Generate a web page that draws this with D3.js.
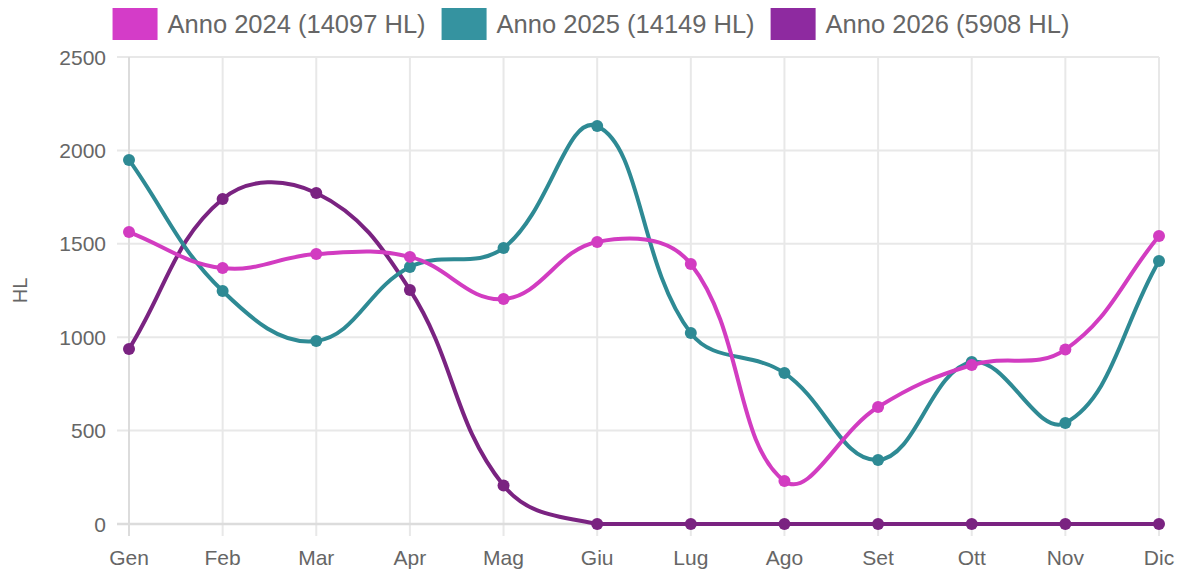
<!DOCTYPE html>
<html>
<head>
<meta charset="utf-8">
<script src="https://cdn.jsdelivr.net/npm/d3@7"></script>
<style>
  html, body { margin: 0; padding: 0; background: #fff; }
  svg text { font-family: "Liberation Sans", Arial, Helvetica, sans-serif; fill: #666; }
</style>
</head>
<body>
<svg id="chart"></svg>
<script>
var W = 1182, H = 576;

// data
var months = ["Gen", "Feb", "Mar", "Apr", "Mag", "Giu", "Lug", "Ago", "Set", "Ott", "Nov", "Dic"];
var yTicks = [0, 500, 1000, 1500, 2000, 2500];
var seriesNames = ["Anno 2024 (14097 HL)", "Anno 2025 (14149 HL)", "Anno 2026 (5908 HL)"];
var vals2024 = [1563, 1370, 1445, 1430, 1204, 1510, 1392, 230, 626, 851, 934, 1542];
var vals2025 = [1949, 1247, 980, 1376, 1478, 2130, 1022, 808, 343, 867, 541, 1408];
var vals2026 = [937, 1740, 1772, 1253, 206, 0, 0, 0, 0, 0, 0, 0];

var lineColors = ["#d23cc1", "#2e8a94", "#7a2381"];
var boxColors = ["#d43cc8", "#3593a0", "#8e2aa0"];

// plot area (note: "top" is taken by window.top, so prefix everything)
var pLeft = 129, pRight = 1159, pTop = 57, pBottom = 524;
var tickLen = 12;

var svg = d3.select("#chart").attr("width", W).attr("height", H);

var x = d3.scalePoint().domain(months).range([pLeft, pRight]);
var y = d3.scaleLinear().domain([0, 2500]).range([pBottom, pTop]);

// grid (Chart.js-ish, light gray)
var grid = svg.append("g").attr("id", "grid");
grid.selectAll("line.v").data(months).enter().append("line")
  .attr("x1", function(d) { return x(d); }).attr("x2", function(d) { return x(d); })
  .attr("y1", pTop).attr("y2", pBottom + tickLen)
  .style("stroke", "#e8e8e8").style("stroke-width", 2);
grid.selectAll("line.h").data(yTicks).enter().append("line")
  .attr("x1", pLeft - tickLen).attr("x2", pRight)
  .attr("y1", function(d) { return y(d); }).attr("y2", function(d) { return y(d); })
  .style("stroke", "#e8e8e8").style("stroke-width", 2);

// axis borders
svg.append("line").attr("x1", pLeft).attr("x2", pLeft).attr("y1", pTop).attr("y2", pBottom + tickLen)
  .style("stroke", "#dcdcdc").style("stroke-width", 2);
svg.append("line").attr("x1", pLeft - tickLen).attr("x2", pRight).attr("y1", y(0)).attr("y2", y(0))
  .style("stroke", "#dcdcdc").style("stroke-width", 2.5);

// tick labels
svg.append("g").selectAll("text").data(yTicks).enter().append("text")
  .attr("x", 106).attr("y", function(d) { return y(d); })
  .attr("dy", "0.36em").attr("text-anchor", "end")
  .style("font-size", "21px")
  .text(function(d) { return d; });

svg.append("g").selectAll("text").data(months).enter().append("text")
  .attr("x", function(d) { return x(d); }).attr("y", 565)
  .attr("text-anchor", "middle")
  .style("font-size", "21px")
  .text(function(d) { return d; });

// y axis title
svg.append("text")
  .attr("transform", "translate(27," + ((pTop + pBottom) / 2) + ") rotate(-90)")
  .attr("text-anchor", "middle")
  .style("font-size", "20px")
  .text("HL");

// Chart.js style spline (tension 0.4) with control points capped to the plot area
function splinePath(pts) {
  var t = 0.4;
  var cps = pts.map(function(cur, i) {
    var prev = pts[i - 1] || cur, next = pts[i + 1] || cur;
    var d01 = Math.hypot(cur[0] - prev[0], cur[1] - prev[1]);
    var d12 = Math.hypot(next[0] - cur[0], next[1] - cur[1]);
    var s01 = d01 / (d01 + d12), s12 = d12 / (d01 + d12);
    if (isNaN(s01)) s01 = 0;
    if (isNaN(s12)) s12 = 0;
    var fa = t * s01, fb = t * s12;
    var cpPrev = [cur[0] - fa * (next[0] - prev[0]), cur[1] - fa * (next[1] - prev[1])];
    var cpNext = [cur[0] + fb * (next[0] - prev[0]), cur[1] + fb * (next[1] - prev[1])];
    return { prev: cap(cpPrev), next: cap(cpNext) };
  });
  var p = d3.path();
  p.moveTo(pts[0][0], pts[0][1]);
  for (var i = 1; i < pts.length; i++) {
    p.bezierCurveTo(cps[i - 1].next[0], cps[i - 1].next[1], cps[i].prev[0], cps[i].prev[1], pts[i][0], pts[i][1]);
  }
  return p.toString();
}
function cap(c) {
  return [Math.max(pLeft, Math.min(pRight, c[0])), Math.max(pTop, Math.min(pBottom, c[1]))];
}

var allSeries = [vals2024, vals2025, vals2026];

// Chart.js paints the last dataset first
for (var s = allSeries.length - 1; s >= 0; s--) {
  var pts = allSeries[s].map(function(v, i) { return [x(months[i]), y(v)]; });
  var g = svg.append("g").attr("class", "series");
  g.append("path").attr("d", splinePath(pts))
    .style("fill", "none").style("stroke", lineColors[s]).style("stroke-width", 4);
  g.selectAll("circle").data(allSeries[s]).enter().append("circle")
    .attr("cx", function(v, i) { return x(months[i]); })
    .attr("cy", function(v) { return y(v); })
    .attr("r", 6)
    .style("fill", lineColors[s]);
}

// legend, centred at the top
var legend = svg.append("g").attr("id", "legend");
var items = legend.selectAll("g").data(seriesNames).enter().append("g");
items.append("rect").attr("width", 45).attr("height", 32).attr("y", 8)
  .style("fill", function(d, i) { return boxColors[i]; });
items.append("text").attr("x", 55).attr("y", 24).attr("dy", "0.36em")
  .style("font-size", "25.5px")
  .text(function(d) { return d; });

var widths = [];
items.each(function() { widths.push(55 + d3.select(this).select("text").node().getComputedTextLength()); });
var gap = 16;
var total = d3.sum(widths) + gap * (widths.length - 1);
var cx = (W - total) / 2;
items.attr("transform", function(d, i) {
  var off = cx;
  for (var k = 0; k < i; k++) off += widths[k] + gap;
  return "translate(" + off + ",0)";
});
</script>
</body>
</html>
